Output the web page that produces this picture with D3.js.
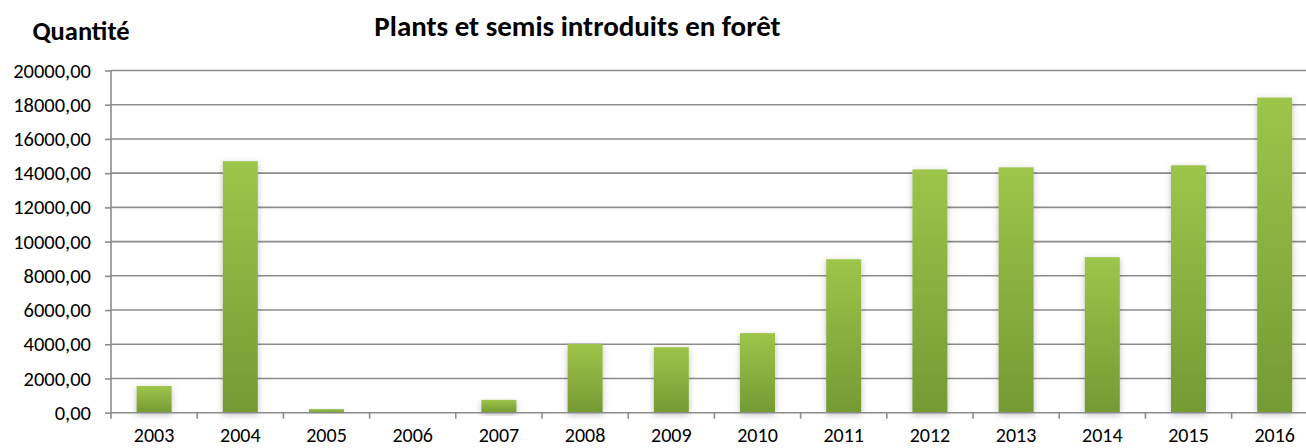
<!DOCTYPE html>
<html><head><meta charset="utf-8">
<script src="https://cdn.jsdelivr.net/npm/d3@7"></script>
<style>html,body{margin:0;padding:0;background:#fff;overflow:hidden}svg{display:block}</style>
</head><body>
<script>
const categories = ["2003","2004","2005","2006","2007","2008","2009","2010","2011","2012","2013","2014","2015","2016"];
const values = [1560, 14700, 210, 0, 750, 4010, 3830, 4650, 8970, 14220, 14340, 9090, 14460, 18420];
const yTicks = [0,2000,4000,6000,8000,10000,12000,14000,16000,18000,20000];
const title = "Plants et semis introduits en forêt";
const yTitle = "Quantité";

(function(){
const W = 1306, H = 448;
const plotL = 111, bandW = 86.2, plotT = 70.5, plotB = 412.7;
const svg = d3.select("body").append("svg").attr("width", W).attr("height", H);
const font = "Calibri, Carlito, 'Open Sans', sans-serif";

const defs = svg.append("defs");
const grad = defs.append("linearGradient").attr("id","g").attr("x1",0).attr("y1",0).attr("x2",0).attr("y2",1);
grad.append("stop").attr("offset","0%").attr("stop-color","#9dc54a");
grad.append("stop").attr("offset","100%").attr("stop-color","#749a33");
const f = defs.append("filter").attr("id","sh").attr("x","-30%").attr("y","-10%").attr("width","160%").attr("height","130%");
f.append("feDropShadow").attr("dx",0).attr("dy",2).attr("stdDeviation",3).attr("flood-color","#000").attr("flood-opacity",0.25);

const plotR = plotL + bandW*categories.length;
const x = d3.scaleBand().domain(categories).range([plotL, plotR]).paddingInner(0.594).paddingOuter(0.297);
const y = d3.scaleLinear().domain([0,20000]).range([plotB, plotT]);

svg.append("g").selectAll("line").data(yTicks.filter(d=>d>0)).join("line")
  .attr("x1", plotL).attr("x2", plotR)
  .attr("y1", d=>y(d)).attr("y2", d=>y(d))
  .attr("stroke","#8c8c8c").attr("stroke-width",1.6);

svg.append("g").selectAll("rect").data(categories.map((c,i)=>({c, v: values[i]})).filter(d=>d.v>0)).join("rect")
  .attr("x", d=>x(d.c)).attr("width", x.bandwidth())
  .attr("y", d=>y(d.v)).attr("height", d=>y(0)-y(d.v))
  .attr("fill","url(#g)").attr("filter","url(#sh)");

const ya = d3.axisLeft(y).tickValues(yTicks).tickSize(6).tickPadding(14)
  .tickFormat(d => d3.format(".2f")(d).replace(".", ","));
const gy = svg.append("g").attr("transform",`translate(${plotL},0)`).call(ya);
gy.select(".domain").attr("stroke","#8c8c8c").attr("stroke-width",1.6).attr("d",`M0,${plotT}V${plotB}`);
gy.selectAll(".tick line").attr("stroke","#8c8c8c").attr("stroke-width",1.6);
gy.selectAll(".tick text").attr("font-family",font).attr("font-size",20.5).attr("fill","#000");

const xa = d3.axisBottom(x).tickSize(0).tickPadding(15);
const gx = svg.append("g").attr("transform",`translate(0,${plotB})`).call(xa);
gx.select(".domain").attr("stroke","#8c8c8c").attr("stroke-width",1.6).attr("d",`M${plotL},0H${plotR}`);
gx.selectAll(".tick text").attr("font-family",font).attr("font-size",20).attr("fill","#000");
gx.append("g").selectAll("line").data(d3.range(categories.length+1)).join("line")
  .attr("x1", i=>plotL+i*bandW).attr("x2", i=>plotL+i*bandW).attr("y1",0).attr("y2",6)
  .attr("stroke","#8c8c8c").attr("stroke-width",1.6);

svg.append("text").attr("x",577.5).attr("y",36).attr("text-anchor","middle")
  .attr("font-family",font).attr("font-weight","bold").attr("font-size",29).text(title);
svg.append("text").attr("x",81).attr("y",40).attr("text-anchor","middle")
  .attr("font-family",font).attr("font-weight","bold").attr("font-size",26.5).text(yTitle);
})();
</script>
</body></html>
